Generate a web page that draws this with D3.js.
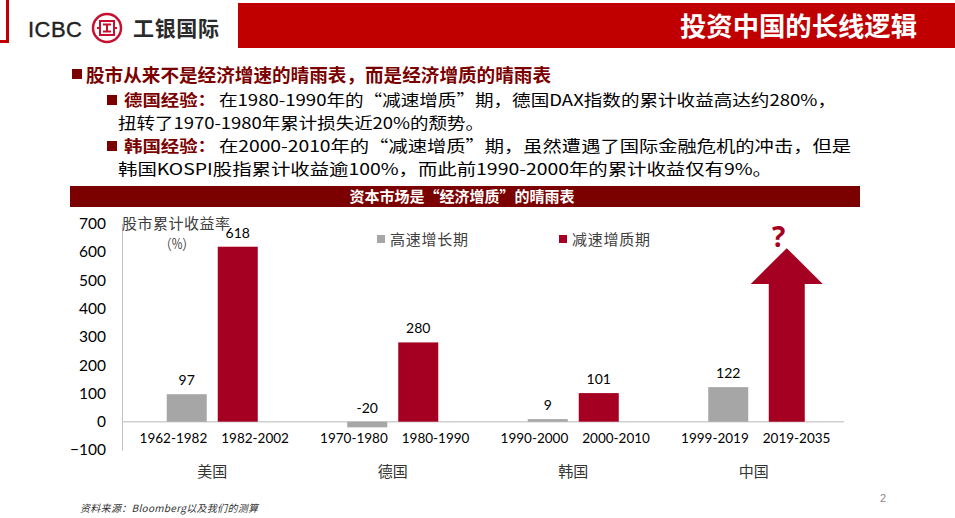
<!DOCTYPE html>
<html><head><meta charset="utf-8">
<script src="https://cdn.jsdelivr.net/npm/d3@7/dist/d3.min.js"></script>
<style>
html,body{margin:0;padding:0;background:#fff;}
svg{display:block;}
</style></head>
<body>
<script>
// ---- data ----
const categories = ["美国", "德国", "韩国", "中国"];
const periodsHigh = ["1962-1982", "1970-1980", "1990-2000", "1999-2019"];
const periodsQuality = ["1982-2002", "1980-1990", "2000-2010", "2019-2035"];
const highGrowth = [97, -20, 9, 122];
const qualityGrowth = [618, 280, 101, null]; // China shown as arrow
const seriesNames = ["高速增长期", "减速增质期"];
const yTicks = [-100, 0, 100, 200, 300, 400, 500, 600, 700];
const arrowValues = [613, 486]; // tip, head base (value units)

const W = 955, H = 518;
const RED = "#C00000", DARK = "#7B0000", BAR_RED = "#A50021", GREY = "#A6A6A6";
const CJK = "'Noto Sans CJK SC','Noto Sans',sans-serif";
const NUM = "Lato,'Open Sans',sans-serif";

const svg = d3.select("body").append("svg").attr("width", W).attr("height", H);

// ---- header ----
svg.append("rect").attr("x", 6).attr("y", 0).attr("width", 3).attr("height", 43).attr("fill", RED);
svg.append("rect").attr("x", 0).attr("y", 40).attr("width", 9).attr("height", 3).attr("fill", RED);
svg.append("text").attr("x", 28).attr("y", 37).attr("font-family", "'Liberation Sans',Arial,sans-serif")
  .attr("font-size", 22).attr("font-weight", 400).attr("fill", "#222").attr("stroke", "#222").attr("stroke-width", 0.4)
  .attr("textLength", 54).text("ICBC");
const logo = svg.append("g").attr("transform", "translate(107,28)");
logo.append("circle").attr("r", 14).attr("fill", "none").attr("stroke", "#C8102E").attr("stroke-width", 2.5);
logo.append("rect").attr("x", -7).attr("y", -7).attr("width", 14).attr("height", 14).attr("fill", "none").attr("stroke", "#C8102E").attr("stroke-width", 2);
logo.append("path").attr("d", "M-4,-3.5H4M0,-3.5V3.5M-4,3.5H4M-10,0H-7M7,0H10").attr("stroke", "#C8102E").attr("stroke-width", 2);
svg.append("text").attr("x", 133).attr("y", 36).attr("font-family", CJK).attr("font-weight", 700)
  .attr("font-size", 21).attr("fill", "#2a2a2a").attr("textLength", 86).text("工银国际");
svg.append("rect").attr("x", 238).attr("y", 3).attr("width", W - 238).attr("height", 45).attr("fill", RED);
svg.append("text").attr("x", 917).attr("y", 36).attr("text-anchor", "end").attr("font-family", CJK)
  .attr("font-weight", 700).attr("font-size", 26).attr("fill", "#fff")
  .attr("textLength", 237).attr("lengthAdjust", "spacingAndGlyphs").text("投资中国的长线逻辑");

// ---- bullet text ----
function bullet(x, y, s) { svg.append("rect").attr("x", x).attr("y", y).attr("width", s).attr("height", s).attr("fill", DARK); }
function line(x, yb, txt, len, bold, fill) {
  svg.append("text").attr("x", x).attr("y", yb).attr("font-family", CJK).attr("font-size", 15.5)
    .attr("font-weight", bold ? 700 : 400).attr("fill", fill)
    .attr("textLength", len).attr("lengthAdjust", "spacingAndGlyphs").text(txt);
}
bullet(72, 69, 10);
svg.append("text").attr("x", 86).attr("y", 82).attr("font-family", CJK).attr("font-weight", 700)
  .attr("font-size", 18).attr("fill", DARK).attr("textLength", 465).attr("lengthAdjust", "spacingAndGlyphs")
  .text("股市从来不是经济增速的晴雨表，而是经济增质的晴雨表");

bullet(107, 95, 10);
line(124, 106, "德国经验：", 92, true, DARK);
line(219, 106, "在1980-1990年的“减速增质”期，德国DAX指数的累计收益高达约280%，", 617, false, "#000");
line(118, 129, "扭转了1970-1980年累计损失近20%的颓势。", 366, false, "#000");
bullet(107, 141, 10);
line(124, 152, "韩国经验：", 92, true, DARK);
line(219, 152, "在2000-2010年的“减速增质”期，虽然遭遇了国际金融危机的冲击，但是", 632, false, "#000");
line(118, 175, "韩国KOSPI股指累计收益逾100%，而此前1990-2000年的累计收益仅有9%。", 654, false, "#000");

// ---- chart title band ----
svg.append("rect").attr("x", 70).attr("y", 186).attr("width", 790).attr("height", 21).attr("fill", DARK);
svg.append("text").attr("x", 462).attr("y", 202).attr("text-anchor", "middle").attr("font-family", CJK)
  .attr("font-weight", 700).attr("font-size", 15).attr("fill", "#fff").text("资本市场是“经济增质”的晴雨表");

// ---- chart ----
const y = d3.scaleLinear().domain([-100, 700]).range([450, 223.5]);
const x0 = d3.scaleBand().domain(categories).range([122, 844]).padding(0);
const x1 = d3.scaleBand().domain(["high", "quality"]).range([0, x0.bandwidth()])
  .paddingInner(11 / 51).paddingOuter(0.877);

// y axis
const yAxis = d3.axisLeft(y).tickValues(yTicks).tickSize(0).tickPadding(16);
const ya = svg.append("g").attr("transform", "translate(122,0)").call(yAxis);
ya.select(".domain").attr("stroke", "#bfbfbf").attr("stroke-width", 1);
ya.selectAll("text").attr("font-family", NUM).attr("font-size", 15.5).attr("fill", "#000");

// zero line
svg.append("line").attr("x1", 122).attr("x2", 844).attr("y1", y(0)).attr("y2", y(0))
  .attr("stroke", "#d0d0d0").attr("stroke-width", 1.5);

const groups = categories.map((c, i) => ({ c, i }));
// grey bars
svg.selectAll(".barH").data(groups).join("rect").attr("class", "barH")
  .attr("x", d => x0(d.c) + x1("high")).attr("width", x1.bandwidth())
  .attr("y", d => y(Math.max(0, highGrowth[d.i])))
  .attr("height", d => Math.abs(y(highGrowth[d.i]) - y(0)))
  .attr("fill", GREY);
// red bars
const qData = groups.filter(d => qualityGrowth[d.i] != null);
svg.selectAll(".barQ").data(qData).join("rect").attr("class", "barQ")
  .attr("x", d => x0(d.c) + x1("quality")).attr("width", x1.bandwidth())
  .attr("y", d => y(Math.max(0, qualityGrowth[d.i])))
  .attr("height", d => Math.abs(y(qualityGrowth[d.i]) - y(0)))
  .attr("fill", BAR_RED);

// value labels
svg.selectAll(".lblH").data(groups).join("text").attr("class", "lblH")
  .attr("x", d => x0(d.c) + x1("high") + x1.bandwidth() / 2)
  .attr("y", d => y(Math.max(0, highGrowth[d.i])) - 9)
  .attr("text-anchor", "middle").attr("font-family", NUM).attr("font-size", 14).attr("fill", "#000")
  .text(d => highGrowth[d.i]);
svg.selectAll(".lblQ").data(qData).join("text").attr("class", "lblQ")
  .attr("x", d => x0(d.c) + x1("quality") + x1.bandwidth() / 2)
  .attr("y", d => y(qualityGrowth[d.i]) - 9)
  .attr("text-anchor", "middle").attr("font-family", NUM).attr("font-size", 14).attr("fill", "#000")
  .text(d => qualityGrowth[d.i]);

// arrow for China
const cc = categories[3];
const ax = x0(cc) + x1("quality") + x1.bandwidth() / 2 + 7.5;
const tipY = y(arrowValues[0]), baseY = y(arrowValues[1]), zY = y(0);
svg.append("path").attr("fill", BAR_RED)
  .attr("d", `M${ax},${tipY} L${ax + 36},${baseY} L${ax + 18},${baseY} L${ax + 18},${zY} L${ax - 18},${zY} L${ax - 18},${baseY} L${ax - 36},${baseY} Z`);
svg.append("text").attr("x", ax - 8).attr("y", tipY - 1).attr("text-anchor", "middle").attr("font-family", "'Open Sans',sans-serif")
  .attr("font-weight", 700).attr("font-size", 28).attr("fill", BAR_RED).text("?");

// period labels
svg.selectAll(".perH").data(groups).join("text").attr("class", "perH")
  .attr("x", d => x0(d.c) + x0.bandwidth() / 2 - 5).attr("y", 443)
  .attr("text-anchor", "end").attr("font-family", NUM).attr("font-size", 13.5).attr("fill", "#000")
  .text(d => periodsHigh[d.i]);
svg.selectAll(".perQ").data(groups).join("text").attr("class", "perQ")
  .attr("x", d => x0(d.c) + x0.bandwidth() / 2 + 9).attr("y", 443)
  .attr("text-anchor", "start").attr("font-family", NUM).attr("font-size", 13.5).attr("fill", "#000")
  .text(d => periodsQuality[d.i]);
// country labels
svg.selectAll(".cat").data(groups).join("text").attr("class", "cat")
  .attr("x", d => x0(d.c) + x0.bandwidth() / 2).attr("y", 477)
  .attr("text-anchor", "middle").attr("font-family", CJK).attr("font-size", 15).attr("fill", "#333")
  .text(d => d.c);

// axis title
svg.append("text").attr("x", 122).attr("y", 229).attr("font-family", CJK).attr("font-size", 15)
  .attr("fill", "#404040").attr("textLength", 108).text("股市累计收益率");
svg.append("text").attr("x", 160).attr("y", 249).attr("font-family", CJK)
  .attr("font-size", 14).attr("fill", "#404040").attr("textLength", 34)
  .attr("lengthAdjust", "spacingAndGlyphs").text("（%）");

// legend
const legX = [377, 559], legC = [GREY, BAR_RED];
seriesNames.forEach((n, i) => {
  svg.append("rect").attr("x", legX[i]).attr("y", 235).attr("width", 8).attr("height", 8).attr("fill", legC[i]);
  svg.append("text").attr("x", legX[i] + 13).attr("y", 245).attr("font-family", CJK).attr("font-size", 15)
    .attr("fill", "#404040").attr("textLength", 78).text(n);
});

// footer
svg.append("text").attr("x", 80).attr("y", 512).attr("font-family", CJK).attr("font-style", "italic")
  .attr("font-size", 10).attr("fill", "#333").attr("textLength", 178).text("资料来源：Bloomberg以及我们的测算");
svg.append("text").attr("x", 880).attr("y", 502).attr("font-family", "'Liberation Sans',sans-serif")
  .attr("font-size", 11).attr("fill", "#888").text("2");
</script>
</body></html>
